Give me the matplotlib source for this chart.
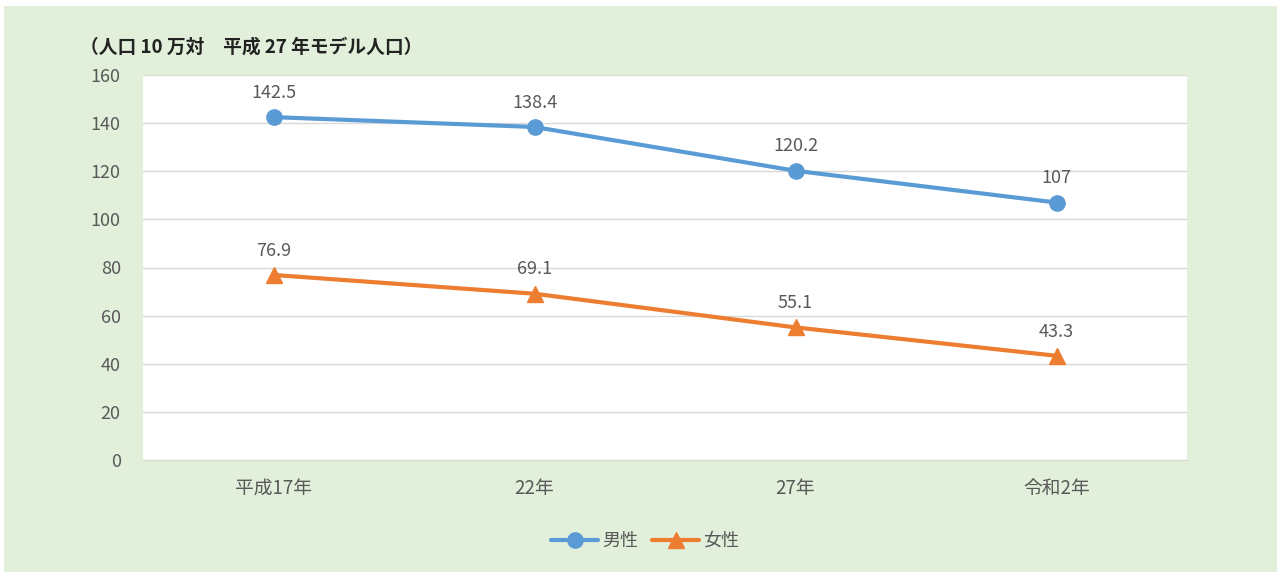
import matplotlib.pyplot as plt
from matplotlib.patches import Rectangle

plt.rcParams['font.family'] = ['Noto Sans CJK JP', 'DejaVu Sans']

# === DATA ===
categories = ["平成17年", "22年", "27年", "令和2年"]
male = [142.5, 138.4, 120.2, 107]
female = [76.9, 69.1, 55.1, 43.3]
male_labels = ["142.5", "138.4", "120.2", "107"]
female_labels = ["76.9", "69.1", "55.1", "43.3"]
y_ticks = [0, 20, 40, 60, 80, 100, 120, 140, 160]

BLUE = "#5b9bd5"
ORANGE = "#ed7d31"
GRAY = "#595959"
W, H = 1282, 575

fig = plt.figure(figsize=(W / 100, H / 100), dpi=100)
fig.patch.set_facecolor("white")
fig.patches.append(Rectangle((4 / W, 3 / H), 1273 / W, 566 / H,
                             transform=fig.transFigure, facecolor="#e2efda",
                             edgecolor="none", zorder=-10))

ax = fig.add_axes([143 / W, 1 - 460 / H, 1044 / W, 385 / H])
ax.set_facecolor("white")
x = list(range(len(categories)))

ax.plot(x, male, color=BLUE, lw=3, marker="o", ms=11, label="男性",
        solid_capstyle="round", zorder=3)
ax.plot(x, female, color=ORANGE, lw=3, marker="^", ms=11, label="女性",
        solid_capstyle="round", zorder=3)

for xi, v, t in zip(x, male, male_labels):
    ax.annotate(t, (xi, v), xytext=(0, 11), textcoords="offset points",
                ha="center", va="bottom", fontsize=13, color=GRAY)
for xi, v, t in zip(x, female, female_labels):
    ax.annotate(t, (xi, v), xytext=(0, 11), textcoords="offset points",
                ha="center", va="bottom", fontsize=13, color=GRAY)

ax.set_xlim(-0.5, len(categories) - 0.5)
ax.set_ylim(0, 160)
ax.set_yticks(y_ticks)
ax.set_xticks(x)
ax.set_xticklabels(categories)
ax.grid(axis="y", color="#d9d9d9", lw=1)
ax.set_axisbelow(True)
for s in ["top", "right", "left"]:
    ax.spines[s].set_visible(False)
ax.spines["bottom"].set_color("#d9d9d9")
ax.tick_params(axis="both", length=0, labelsize=13, labelcolor=GRAY)
ax.tick_params(axis="x", labelsize=13.5, pad=13)
ax.tick_params(axis="y", pad=16)

fig.text(80 / W, 1 - 47 / H, "（人口 10 万対　平成 27 年モデル人口）",
         fontsize=13.5, fontweight="bold", color="#222222", va="center", ha="left")

fig.legend(loc="center", bbox_to_anchor=(645 / W, 1 - 541 / H), ncol=2,
           frameon=False, fontsize=13, labelcolor=GRAY, handlelength=2.6,
           columnspacing=0.8, handletextpad=0.2)

fig.savefig("out.png", dpi=100, facecolor=fig.get_facecolor())
